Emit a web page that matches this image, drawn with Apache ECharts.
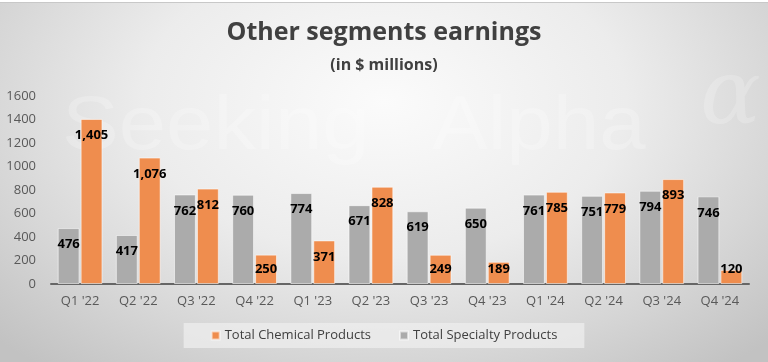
<!DOCTYPE html>
<html>
<head>
<meta charset="utf-8">
<script src="https://cdn.jsdelivr.net/npm/echarts@6/dist/echarts.min.js"></script>
<style>
html,body{margin:0;padding:0;}
#c{width:768px;height:362px;background:radial-gradient(ellipse 70% 95% at 50% 28%, #fbfbfb 0%, #ececec 45%, #d6d6d6 75%, #c2c2c2 100%);}
</style>
</head>
<body>
<div id="c"></div>
<script>
const categories = ["Q1 '22","Q2 '22","Q3 '22","Q4 '22","Q1 '23","Q2 '23","Q3 '23","Q4 '23","Q1 '24","Q2 '24","Q3 '24","Q4 '24"];
const specialty = [476,417,762,760,774,671,619,650,761,751,794,746];
const chemical = [1405,1076,812,250,371,828,249,189,785,779,893,120];
const yTicks = [0,200,400,600,800,1000,1200,1400,1600];

const fontFam = '"Open Sans", "Noto Sans", sans-serif';
const fmt = v => Number(v).toLocaleString('en-US');

function labelled(arr){
  return arr.map(v => {
    if (v < 300) {
      return {value: v, label: {position: 'insideBottom', distance: 8}};
    }
    return {value: v};
  });
}

const chart = echarts.init(document.getElementById('c'), null, {renderer: 'canvas'});
const baseLabel = {
  show: true,
  position: 'insideTop',
  distance: 10,
  color: '#000',
  fontFamily: fontFam,
  fontWeight: 'bold',
  fontSize: 13,
  formatter: p => fmt(p.value)
};
chart.setOption({
  backgroundColor: 'transparent',
  animation: false,
  title: [{
    text: 'Other segments earnings',
    left: 'center',
    top: 15,
    textStyle: {fontFamily: fontFam, fontWeight: 'bold', fontSize: 25, color: '#404040'}
  },{
    text: '(in $ millions)',
    left: 'center',
    top: 52,
    textStyle: {fontFamily: fontFam, fontWeight: 'bold', fontSize: 16, color: '#404040'}
  }],
  graphic: [
    {type: 'rect', shape: {x: 0, y: 0, width: 768, height: 2}, style: {fill: '#ffffff'}, silent: true},
    {type: 'rect', shape: {x: 0, y: 2, width: 768, height: 1}, style: {fill: '#c8c8c8'}, silent: true},
    {type: 'text', left: 62, top: 90, z: -1, scaleX: 1.12, style: {text: 'Seeking', font: '76px "Liberation Sans", sans-serif', fill: 'rgba(255,255,255,0.22)'}, silent: true},
    {type: 'text', left: 432, top: 90, z: -1, scaleX: 1.1, style: {text: 'Alpha', font: '76px "Liberation Sans", sans-serif', fill: 'rgba(255,255,255,0.22)'}, silent: true},
    {type: 'text', left: 700, top: 55, z: -1, style: {text: 'α', font: 'italic 90px "DejaVu Serif", serif', fill: 'rgba(255,255,255,0.2)'}, silent: true}
  ],
  legend: {
    data: ['Total Chemical Products', 'Total Specialty Products'],
    left: 'center',
    top: 323,
    icon: 'rect',
    itemWidth: 8,
    itemHeight: 8,
    itemGap: 28,
    padding: [6, 27, 6, 27],
    backgroundColor: 'rgba(238,238,238,0.75)',
    textStyle: {fontFamily: fontFam, fontSize: 13, color: '#404040'}
  },
  grid: {left: 51, right: 19, top: 96, bottom: 78, containLabel: false},
  xAxis: {
    type: 'category',
    data: categories,
    axisLine: {lineStyle: {color: '#666666', width: 2}},
    axisTick: {show: false},
    axisLabel: {fontFamily: fontFam, fontSize: 13, color: '#595959', margin: 11}
  },
  yAxis: {
    type: 'value',
    min: yTicks[0],
    max: yTicks[yTicks.length - 1],
    interval: 200,
    axisLine: {show: false},
    axisTick: {show: false},
    splitLine: {show: false},
    axisLabel: {fontFamily: fontFam, fontSize: 13, color: '#595959', margin: 15, formatter: v => String(v)}
  },
  series: [{
    name: 'Total Specialty Products',
    type: 'bar',
    data: labelled(specialty),
    barGap: '5%',
    barCategoryGap: '23%',
    itemStyle: {color: '#ababab', borderColor: 'rgba(255,255,255,0.55)', borderWidth: 1},
    label: baseLabel
  },{
    name: 'Total Chemical Products',
    type: 'bar',
    data: labelled(chemical),
    barGap: '5%',
    barCategoryGap: '23%',
    itemStyle: {color: '#ef8d4e', borderColor: 'rgba(255,255,255,0.55)', borderWidth: 1},
    label: baseLabel
  }]
});
</script>
</body>
</html>
